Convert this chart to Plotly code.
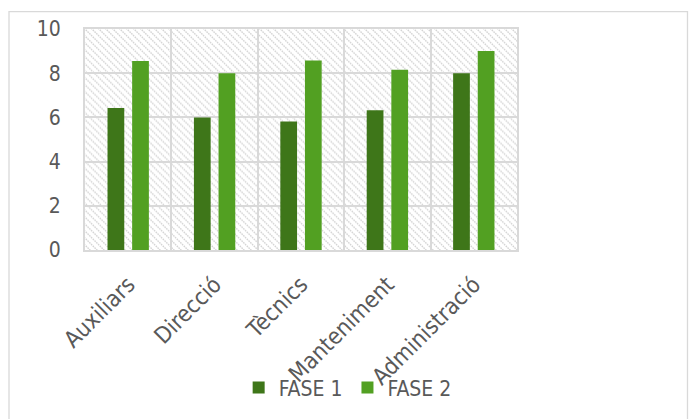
import base64
import plotly.graph_objects as go

categories = ["Auxiliars", "Direcció", "Tècnics", "Manteniment", "Administració"]
fase1 = [6.43, 6.0, 5.82, 6.32, 8.0]
fase2 = [8.55, 8.0, 8.57, 8.16, 9.0]
series_names = ["FASE 1", "FASE 2"]
y_ticks = [0, 2, 4, 6, 8, 10]

W, H = 689, 419
L, R, T, B = 85, 172, 29, 168
PW, PH = W - L - R, H - T - B

FONT = "DejaVu Sans Condensed, DejaVu Sans, sans-serif"
TXT = "#595959"
GRID = "#d9d9d9"

# hatch background as an SVG pattern
svg = f'''<svg xmlns="http://www.w3.org/2000/svg" width="{PW}" height="{PH}" viewBox="0 0 {PW} {PH}" preserveAspectRatio="none">
<defs><pattern id="h" width="7" height="7" patternUnits="userSpaceOnUse">
<path d="M-1,-1 L8,8 M-1,6 L1,8 M6,-1 L8,1" stroke="#d4d4d4" stroke-width="1.4" stroke-dasharray="1.6,0.9"/>
</pattern></defs>
<rect width="{PW}" height="{PH}" fill="url(#h)"/></svg>'''
src = "data:image/svg+xml;base64," + base64.b64encode(svg.encode()).decode()

fig = go.Figure()
fig.add_trace(go.Bar(x=categories, y=fase1, name=series_names[0], marker=dict(color="#3E7619", line=dict(width=0))))
fig.add_trace(go.Bar(x=categories, y=fase2, name=series_names[1], marker=dict(color="#52A022", line=dict(width=0))))

fig.update_layout(
    width=W, height=H,
    margin=dict(l=L, r=R, t=T, b=B),
    paper_bgcolor="white", plot_bgcolor="white",
    barmode="group", bargap=0.43, bargroupgap=0.32,
    font=dict(family=FONT, size=20, color=TXT),
    showlegend=True,
    legend=dict(orientation="h", x=0.608, xanchor="center", y=-0.617, yanchor="middle",
                font=dict(size=21, color=TXT), itemwidth=30, tracegroupgap=0,
                bgcolor="rgba(0,0,0,0)"),
    images=[dict(source=src, xref="paper", yref="paper", x=0, y=1, sizex=1, sizey=1,
                 xanchor="left", yanchor="top", sizing="stretch", layer="below")],
    shapes=[dict(type="rect", xref="paper", yref="paper",
                 x0=(9 - L) / PW, x1=(687.5 - L) / PW,
                 y0=(H - B - 440) / PH, y1=(H - B - 11.5) / PH,
                 line=dict(color=GRID, width=1.3), fillcolor="rgba(0,0,0,0)", layer="below")],
)
fig.update_xaxes(tickson="boundaries", showgrid=True, gridcolor=GRID, gridwidth=2,
                 showline=True, linecolor=GRID, linewidth=2, mirror=True,
                 tickangle=-45, ticks="", ticklabelstandoff=10,
                 tickfont=dict(size=23, color=TXT))
fig.update_yaxes(range=[0, 10], tickvals=y_ticks, showgrid=True, gridcolor=GRID, gridwidth=2,
                 showline=True, linecolor=GRID, linewidth=2, mirror=True, zeroline=False,
                 ticks="", ticklabelstandoff=18, tickfont=dict(size=21, color=TXT))

fig.write_html("out.html")
